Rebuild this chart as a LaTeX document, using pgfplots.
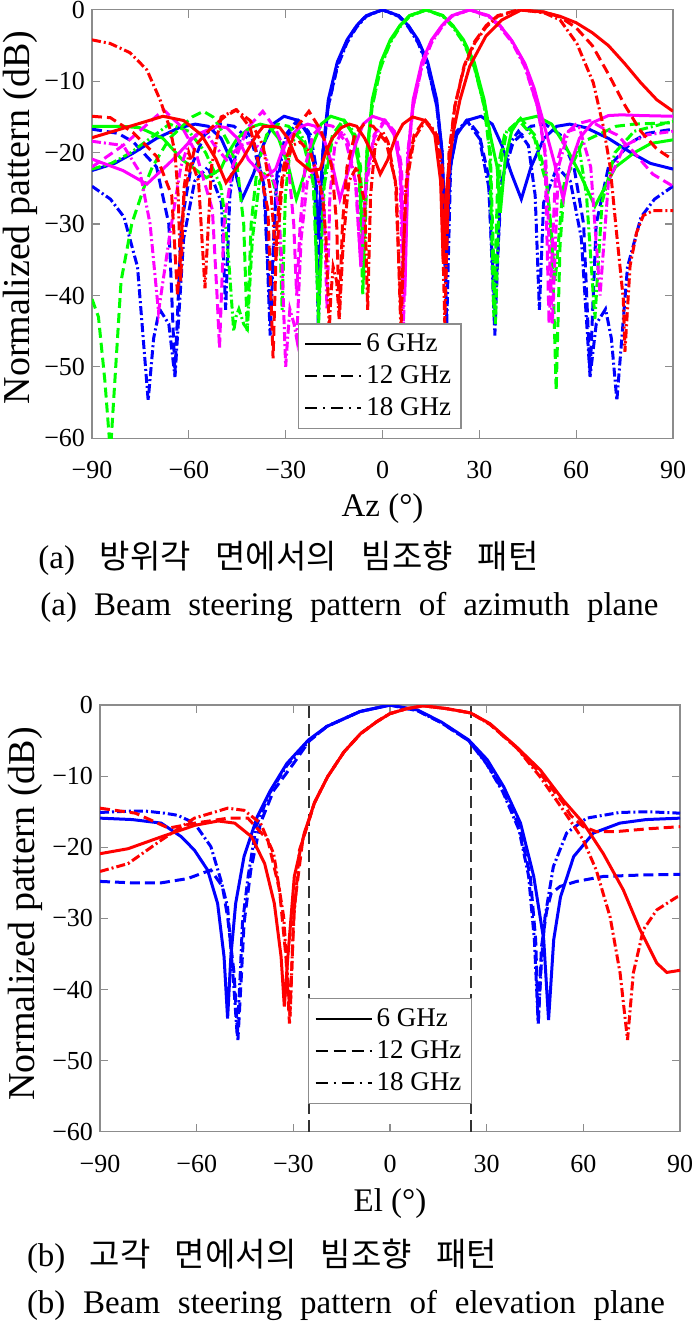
\documentclass[border=0pt]{standalone}
\usepackage{fontspec}
\setmainfont{Liberation Serif}
\newfontfamily\cjk{Noto Sans CJK KR}
\usepackage{pgfplots}
\pgfplotsset{compat=1.18}

\definecolor{cB}{rgb}{0,0,1}
\definecolor{cG}{rgb}{0,1,0}
\definecolor{cM}{rgb}{1,0,1}
\definecolor{cR}{rgb}{1,0,0}

\pgfplotsset{
  pat/.style={
    scale only axis,
    xmin=-90, xmax=90, ymin=-60, ymax=0,
    xtick={-90,-60,...,90}, xticklabels={−90,−60,−30,0,30,60,90},
    ytick={-60,-50,...,0}, yticklabels={−60,−50,−40,−30,−20,−10,0},
    tick align=inside, major tick length=4pt,
    axis line style={black!45, line width=0.6pt},
    tick style={black!45, line width=0.6pt},
    tick label style={font=\fontsize{13}{13}\selectfont},
    xticklabel style={yshift=-8pt},
    xlabel style={font=\fontsize{16.5}{16.5}\selectfont},
    ylabel style={font=\fontsize{19}{19}\selectfont},
    ylabel={Normalized pattern (dB)},
    legend style={draw=black!45, fill=white, line width=0.6pt,
      font=\fontsize{13.5}{15}\selectfont, inner xsep=3pt, inner ysep=3pt,
      row sep=1.5pt, cells={anchor=west}},
    legend cell align=left,
    legend image code/.code={\draw[#1] (0pt,0pt) -- (28pt,0pt);},
  },
  s6/.style={line width=1.5pt, solid},
  s12/.style={line width=1.5pt, dash pattern=on 5pt off 2.5pt},
  s18/.style={line width=1.5pt, dash pattern=on 4.5pt off 1.5pt on 1pt off 1.5pt},
}

\newcommand{\ko}[1]{{\cjk\fontsize{16.5}{18}\selectfont #1}}

\begin{document}
\begin{tikzpicture}
\useasboundingbox (0,0) rectangle (349pt,663pt);

% (a) azimuth plane
\begin{axis}[pat, at={(46pt,443.85pt)}, anchor=south west,
  width=290.5pt, height=214.2pt,
  xlabel={Az (°)},
  xlabel style={at={(axis description cs:0.5,-0.165)}, anchor=center},
  ylabel style={at={(axis description cs:-0.124,0.515)}, anchor=center},
  legend style={at={(axis cs:-26.2,-43.9)}, anchor=north west}]
\addlegendimage{black, line width=0.9pt, solid}
\addlegendentry{6 GHz}
\addlegendimage{black, line width=0.9pt, dash pattern=on 6pt off 3pt}
\addlegendentry{12 GHz}
\addlegendimage{black, line width=0.9pt, dash pattern=on 6pt off 3pt on 1pt off 3pt}
\addlegendentry{18 GHz}

% blue, 0 deg
\addplot[cB, s6, forget plot] coordinates {
(-90,-22.5) (-83,-21.5) (-77,-20) (-70,-18) (-63,-16.5) (-58,-16) (-54,-16.3) (-50,-18) (-46,-22) (-43.5,-26.5) (-40,-23) (-37,-19) (-34,-16) (-30.5,-14.9) (-26,-15.5) (-23,-17.5) (-21,-22) (-20,-32) (-18.5,-20) (-16.8,-12.6) (-14,-7.3) (-11,-4.2) (-8,-2.2) (-5,-0.8) (0,0) (5,-0.8) (8,-2.2) (11,-4.2) (14,-7.3) (16.8,-12.6) (18.5,-20) (19.7,-34.9) (21,-22) (23,-17.5) (26,-15.5) (30.5,-14.9) (34,-16) (37,-19) (40,-23) (43,-26.5) (46,-22) (50,-18) (54,-16.3) (58,-16) (63,-16.5) (70,-18) (77,-20) (83,-21.5) (90,-22.3)};
\addplot[cB, s12, forget plot] coordinates {
(-90,-16.7) (-81.9,-17.3) (-77.2,-18.5) (-70,-22) (-66.2,-30) (-64.3,-51) (-62.3,-30) (-59.3,-22) (-55.1,-17.5) (-50.4,-16) (-46,-16.3) (-40.5,-18.5) (-36.9,-24) (-34.8,-42) (-32.7,-23) (-30,-17.5) (-26.5,-15.5) (-22.3,-17.5) (-20.6,-22) (-19.5,-38) (-18.4,-20) (-16.8,-13.5) (-14,-7.8) (-11,-4.4) (-8,-2.2) (-5,-0.8) (0,0) (5,-0.8) (8,-2.2) (11,-4.4) (14,-7.8) (16.8,-13.5) (18.4,-20) (19.5,-38) (20.6,-22) (22.3,-17.5) (26.5,-15.5) (30,-17.5) (32.7,-23) (34.8,-42) (36.9,-24) (40.5,-18.5) (46,-16.3) (50.4,-16) (55.1,-17.5) (59.3,-22) (62.3,-30) (64.3,-51) (66.2,-30) (70,-22) (77.2,-18.5) (81.9,-17.3) (90,-16.7)};
\addplot[cB, s18, forget plot] coordinates {
(-90,-24.7) (-84.3,-26.5) (-80.1,-29) (-75.9,-36) (-72.6,-54.7) (-70.9,-46) (-69.1,-41.9) (-66.2,-44) (-64.3,-51.4) (-61.6,-32) (-58.2,-24) (-54.1,-22) (-49.9,-27) (-48.6,-42) (-47.3,-26) (-45.2,-19) (-42.1,-17) (-39.8,-18.5) (-36.5,-25) (-34.8,-45.6) (-33,-25) (-30,-18) (-26.1,-15.5) (-23,-17) (-21.1,-22) (-19.9,-44) (-18.5,-20) (-16.8,-13.5) (-14,-8) (-11,-4.6) (-8,-2.4) (-5,-0.9) (0,0) (5,-0.9) (8,-2.4) (11,-4.6) (14,-8) (16.8,-13.5) (18.5,-20) (19.9,-44) (21.1,-22) (23,-17) (26.1,-15.5) (30,-18) (33,-25) (34.8,-45.6) (36.5,-25) (39.8,-18.5) (42.1,-17) (45.2,-19) (47.3,-26) (48.6,-42) (49.9,-27) (54.1,-22) (58.2,-24) (61.6,-32) (64.3,-51.4) (66.2,-44) (69.1,-41.9) (70.9,-46) (72.6,-54.7) (75.9,-36) (80.1,-29) (84.3,-26.5) (90,-24.7)};

% green, 13.5 deg
\addplot[cG, s6, forget plot] coordinates {
(-90,-16.3) (-80.8,-16.3) (-75.2,-16.5) (-68,-18) (-62,-21) (-54.5,-23.5) (-50.1,-22.3) (-47.8,-20) (-45,-18) (-41.1,-16.5) (-37.9,-16) (-35.2,-16.3) (-32.2,-18) (-29.1,-22) (-26.7,-26.5) (-24.2,-23) (-21.7,-19) (-19,-16) (-16,-14.9) (-11.8,-15.5) (-9.1,-17.5) (-7.2,-22) (-6,-35) (-4.8,-20) (-3.2,-12.6) (-0.5,-7.3) (2.4,-4.2) (5.4,-2.2) (8.4,-0.8) (13.5,0) (18.7,-0.8) (21.8,-2.2) (25.1,-4.2) (28.4,-7.3) (31.5,-12.6) (33.6,-18) (35.5,-22) (36.5,-28.4) (38,-21) (40,-17) (42.1,-15.5) (47.8,-14.9) (52.4,-16) (56.6,-19) (61.2,-23) (65.8,-27.5) (72.2,-22) (78,-20) (83.2,-18.7) (90,-18.2)};
\addplot[cG, s12, forget plot] coordinates {
(-90,-40.5) (-88,-43) (-86,-52) (-84.3,-62) (-81,-38) (-77.7,-30) (-74,-25) (-71.3,-22) (-66,-18) (-62.5,-16.5) (-59,-15) (-55.5,-14.2) (-52.5,-15) (-50.1,-16.7) (-47.9,-18.5) (-45,-22) (-43,-30) (-41.9,-45) (-40.7,-30) (-38.8,-22) (-35.9,-17.5) (-32.5,-16) (-29.1,-16.3) (-24.6,-18.5) (-21.5,-24) (-19.8,-42) (-17.9,-23) (-15.5,-17.5) (-12.3,-15.5) (-8.5,-17.5) (-6.8,-22) (-5.8,-38) (-4.7,-20) (-3.2,-13.5) (-0.5,-7.8) (2.4,-4.4) (5.4,-2.2) (8.4,-0.8) (13.5,0) (18.7,-0.8) (21.8,-2.2) (25.1,-4.4) (28.4,-7.8) (31.5,-13.5) (33.2,-20) (34.5,-43) (35.8,-22) (37.8,-17.5) (42.8,-15.2) (47.1,-17.5) (50.6,-23) (52.5,-32) (53.8,-53.3) (55,-33) (56.4,-24) (62,-18.5) (72.4,-16.3) (78,-16) (90,-15.8)};
\addplot[cG, s18, forget plot] coordinates {
(-90,-22.3) (-84,-21.5) (-78,-20) (-72,-18) (-66,-16) (-60,-17) (-54.8,-20) (-50.1,-24.7) (-48.8,-29) (-47.5,-36) (-46.1,-45) (-45.4,-43) (-44.5,-41.9) (-43,-44) (-41.9,-44.7) (-40.3,-32) (-38.1,-24) (-35.2,-22) (-32.1,-27) (-31.1,-42) (-30.1,-26) (-28.5,-19) (-25.9,-17) (-24,-18.5) (-21.2,-25) (-19.8,-44) (-18.2,-25) (-15.5,-18) (-11.9,-15.5) (-9,-17) (-7.3,-22) (-6.1,-40) (-4.9,-20) (-3.2,-13.5) (-0.5,-8) (2.4,-4.6) (5.4,-2.4) (8.4,-0.9) (13.5,0) (18.7,-0.9) (21.8,-2.4) (25.1,-4.6) (28.4,-8) (31.5,-13.5) (33.4,-20) (35,-44) (36.4,-22) (38.5,-17) (42.3,-15.5) (47.1,-18) (51.1,-25) (53.5,-38) (55.9,-25) (60.8,-19) (63.2,-26) (65.8,-43.3) (68,-27) (72,-20) (78,-17) (90,-15.6)};

% magenta, 27 deg
\addplot[cM, s6, forget plot] coordinates {
(-90,-20.9) (-80.4,-22.5) (-73,-24.4) (-65,-21) (-57.8,-17.5) (-51.2,-16.3) (-48.3,-16.5) (-44.9,-18) (-41.5,-21) (-36.4,-23.5) (-33.1,-22.3) (-31.3,-20) (-29.1,-18) (-25.9,-16.5) (-23.2,-16) (-20.8,-16.3) (-18.2,-18) (-15.4,-22) (-13.2,-26.5) (-10.9,-23) (-8.5,-19) (-6,-16) (-3.1,-14.9) (0.9,-15.5) (3.6,-17.5) (5.5,-22) (6.9,-40) (8,-20) (9.5,-12.6) (12.2,-7.3) (15.2,-4.2) (18.4,-2.2) (21.5,-0.8) (27,0) (32.8,-0.8) (36.4,-2.2) (40.2,-4.4) (44.1,-7.5) (47,-11) (50,-16) (53,-21) (56,-26.5) (58,-22) (61,-18) (65,-15.8) (70,-14.8) (74,-14.7) (80,-14.8) (90,-14.9)};
\addplot[cM, s12, forget plot] coordinates {
(-90,-22) (-80.4,-19) (-67.8,-14) (-62,-16.5) (-57.8,-20) (-52.7,-28) (-51.2,-40.5) (-50.5,-47.4) (-49.1,-30) (-46.5,-22) (-41.8,-16.5) (-37.1,-14.2) (-33.1,-16.7) (-31.4,-18.5) (-29.1,-22) (-27.5,-30) (-26.6,-40) (-25.5,-30) (-24,-22) (-21.5,-17.5) (-18.4,-16) (-15.4,-16.3) (-11.3,-18.5) (-8.4,-24) (-6.7,-36) (-4.9,-23) (-2.6,-17.5) (0.5,-15.5) (4.2,-17.5) (5.9,-22) (6.9,-38) (8,-20) (9.5,-13.5) (12.2,-7.8) (15.2,-4.4) (18.4,-2.2) (21.5,-0.8) (27,0) (32.8,-0.8) (36.4,-2.2) (40.2,-4.4) (44.1,-7.8) (48,-13.5) (50.3,-20) (51.6,-44) (53.7,-22) (56.5,-17.5) (60,-16) (64.2,-15.5) (68,-16.5) (72.6,-17.5) (78,-20) (83.7,-23) (90,-24.7)};
\addplot[cM, s18, forget plot] coordinates {
(-90,-18.4) (-80.3,-19) (-75.1,-22.8) (-72,-30) (-69.4,-42.3) (-65.8,-31.2) (-62.5,-22) (-59.6,-18.1) (-55,-17) (-52,-19) (-48.3,-21) (-44.1,-19) (-40.2,-18.5) (-36.6,-20) (-33.1,-24.7) (-32.1,-29) (-31.1,-36) (-30,-50) (-29.4,-46) (-28.7,-41.9) (-27.4,-44) (-26.6,-46) (-25.2,-32) (-23.3,-24) (-20.9,-22) (-18.1,-27) (-17.2,-42) (-16.3,-26) (-14.8,-19) (-12.5,-17) (-10.7,-18.5) (-8.1,-25) (-6.7,-36) (-5.2,-25) (-2.6,-18) (0.8,-15.5) (3.7,-17) (5.4,-22) (6.5,-44) (7.8,-20) (9.5,-13.5) (12.2,-8) (15.2,-4.6) (18.4,-2.4) (21.5,-0.9) (27,0) (32.8,-0.9) (36.4,-2.4) (40.2,-4.6) (44.1,-8) (48,-13.5) (50.5,-20) (52.6,-44) (54.5,-22) (57.6,-17) (61,-16.5) (64.5,-22) (67.4,-40) (70,-24) (75,-19) (82,-17.5) (90,-17)};

% red, 43 deg
\addplot[cR, s6, forget plot] coordinates {
(-90,-17.9) (-76,-16) (-68,-14.9) (-61.6,-15.5) (-56.1,-17.5) (-51.6,-20.9) (-48.5,-24.2) (-43.5,-21) (-39,-17.5) (-36.9,-16.3) (-34.3,-16.3) (-31.8,-16.5) (-29.3,-18) (-26.5,-21) (-22.5,-22.5) (-19.3,-22.3) (-17.6,-20) (-15.6,-18) (-12.8,-16.5) (-10.3,-16) (-8,-16.3) (-5.5,-18) (-2.8,-20.5) (-0.7,-23) (1.6,-21) (3.9,-18) (6.3,-16) (9.3,-15) (13.3,-15.5) (16.2,-17.5) (18,-24) (18.8,-35.3) (19.7,-26) (20.5,-22) (22,-17) (24,-12.6) (27,-7.9) (32,-3.7) (37,-1.4) (43,0) (50,-0.3) (55,-0.9) (60,-1.8) (65,-3.2) (70,-5) (75,-7.5) (80,-10.2) (85,-12.6) (90,-14.2)};
\addplot[cR, s12, forget plot] coordinates {
(-90,-14.9) (-84.3,-15.1) (-77.2,-17.2) (-70,-20.5) (-65.3,-26) (-63.5,-40) (-61.5,-26) (-58,-19) (-53,-16.5) (-49,-15) (-45.2,-14) (-41,-16.5) (-39.1,-20) (-35.5,-28) (-33.9,-48.8) (-32.7,-30) (-30.7,-22) (-26.7,-16.5) (-22.8,-14.2) (-19.3,-16.7) (-17.8,-18.5) (-15.7,-22) (-14.2,-30) (-13.4,-43) (-12.4,-30) (-11,-22) (-8.6,-17.5) (-5.7,-16) (-2.9,-16.3) (1.1,-18.5) (4,-24) (5.7,-42) (7.5,-23) (9.8,-17.5) (12.9,-15.5) (16.9,-17.5) (18.5,-22) (19.6,-38) (20.8,-20) (22.4,-13.5) (25.3,-7.8) (28.6,-4.4) (32.1,-2.2) (35.7,-0.8) (42,0) (50,-0.3) (55,-1) (60,-2.5) (65,-5) (70,-9) (75,-13.3) (80,-17) (85,-19.5) (90,-21)};
\addplot[cR, s18, forget plot] coordinates {
(-90,-4.2) (-84.4,-4.7) (-78.2,-6) (-73,-8.4) (-68.9,-12.6) (-65.8,-16.7) (-64.3,-20) (-63.3,-26) (-62.5,-38) (-61.5,-25) (-60,-20) (-57,-24) (-55,-39) (-53,-22) (-50,-15) (-45.5,-14) (-41,-15.5) (-37,-19) (-34.5,-26) (-33,-35) (-31,-24) (-28,-19) (-25.5,-18.5) (-22.3,-20) (-19.3,-24.7) (-18.4,-27) (-17.5,-32) (-16.5,-45) (-16,-40) (-15.3,-36) (-14.2,-38) (-13.4,-43.3) (-12.1,-32) (-10.4,-24) (-8,-22) (-5.5,-27) (-4.6,-42) (-3.7,-26) (-2.3,-19) (0,-17) (1.7,-18.5) (4.3,-25) (5.7,-45) (7.2,-25) (9.8,-18) (13.3,-15.5) (16.3,-17) (18.1,-22) (19.3,-44) (20.6,-20) (22.4,-13.5) (25.3,-8) (28.6,-4.6) (32.1,-2.4) (35.7,-0.9) (43,0) (50,-0.4) (55,-1.4) (60.2,-4.7) (65.3,-10.2) (68.4,-16.3) (70.5,-21.9) (72.5,-31.2) (74.6,-40.5) (75.1,-47.9) (76.7,-35.8) (78.7,-31.2) (80.8,-28.8) (83.9,-28.1) (90,-28.1)};
\end{axis}

% (b) elevation plane
\begin{axis}[pat, at={(50pt,97.15pt)}, anchor=south west,
  width=290pt, height=213.3pt,
  xlabel={El (°)},
  xlabel style={at={(axis description cs:0.5,-0.169)}, anchor=center},
  ylabel style={at={(axis description cs:-0.129,0.51)}, anchor=center},
  legend style={at={(axis cs:-25.4,-41.2)}, anchor=north west}]
\addlegendimage{black, line width=0.9pt, solid}
\addlegendentry{6 GHz}
\addlegendimage{black, line width=0.9pt, dash pattern=on 6pt off 3pt}
\addlegendentry{12 GHz}
\addlegendimage{black, line width=0.9pt, dash pattern=on 6pt off 3pt on 1pt off 3pt}
\addlegendentry{18 GHz}

\addplot[black!80, line width=1pt, dash pattern=on 6pt off 3pt, forget plot] coordinates {(-25,-60) (-25,0)};
\addplot[black!80, line width=1pt, dash pattern=on 6pt off 3pt, forget plot] coordinates {(25,-60) (25,0)};

\addplot[cB, s6, forget plot] coordinates {
(-90,-15.9) (-80,-16.1) (-71,-16.6) (-64.8,-18.5) (-60.7,-20.4) (-56.6,-23.2) (-53.5,-27.9) (-51.5,-35.4) (-50.4,-44.1) (-49.4,-35.4) (-47.9,-27.9) (-45.3,-21.3) (-41.2,-15.7) (-37.1,-12) (-32,-8.2) (-25.3,-4.9) (-19.6,-3) (-9.3,-0.9) (0,0) (8.6,-0.7) (16,-2.4) (24.4,-4.9) (30.2,-7.7) (35.3,-11.5) (40.5,-16.6) (44.6,-24.1) (47.7,-33) (49.2,-44.3) (50.8,-33) (52.9,-27) (57,-21.3) (63.1,-18) (71.3,-16.6) (79.5,-16.1) (90,-15.9)};
\addplot[cB, s12, forget plot] coordinates {
(-90,-24.8) (-80,-25) (-71,-25) (-62.8,-24.4) (-55.6,-23.2) (-52,-25.5) (-50.4,-29.8) (-48.4,-37.7) (-47.2,-47.1) (-46,-37) (-45.3,-30.7) (-43.2,-23.2) (-40.2,-16.6) (-36.1,-12) (-29.9,-8.2) (-25,-5) (-19.6,-3) (-9.3,-0.9) (0,0) (8.6,-0.8) (16,-2.5) (24.4,-5) (30,-8.2) (35,-12) (40,-17) (43.5,-24) (45.2,-33) (46,-44.8) (47,-34) (48.6,-29) (50,-26.5) (52.8,-25.5) (57.9,-24.8) (66.2,-24.1) (78,-23.9) (90,-23.8)};
\addplot[cB, s18, forget plot] coordinates {
(-90,-15.1) (-80,-14.9) (-76,-14.9) (-70,-15.2) (-65.9,-15.5) (-60.7,-16.6) (-55.6,-19.9) (-52.5,-24.6) (-50.4,-28.4) (-48.4,-40) (-47.4,-46.6) (-46.5,-38) (-45.8,-30.7) (-44,-24) (-41.5,-17) (-37.5,-12.5) (-32,-8.5) (-25,-5) (-19.6,-3) (-9.3,-0.9) (0,0) (8.6,-0.8) (16,-2.5) (24.4,-5) (30,-8.3) (35,-12.2) (40,-17.5) (43,-24) (44.8,-33) (46,-44.8) (47,-36) (48.1,-29.8) (50.7,-22.7) (54.8,-18) (61,-15.9) (71.3,-15.1) (80,-15) (90,-15.2)};

\addplot[cR, s6, forget plot] coordinates {
(-90,-20.9) (-81.3,-20.2) (-70.8,-18.5) (-60.5,-16.9) (-53.3,-16.3) (-48.2,-16.6) (-43,-18.5) (-38.9,-22.3) (-35.9,-27.9) (-33.8,-35.4) (-32.8,-42.4) (-31.7,-35.4) (-29.7,-24.1) (-26.6,-18) (-23.5,-13.8) (-19.4,-10.1) (-14.3,-6.6) (-9.1,-4) (-4,-2.3) (0,-1.2) (5.2,-0.5) (10.3,-0.1) (17.6,-0.5) (25,-1.1) (31,-2.6) (39.3,-5.9) (46.6,-9.1) (53.8,-13.4) (60,-16.6) (66.2,-20.9) (72.4,-26) (77.6,-31.6) (82.8,-36.3) (85.9,-37.6) (90,-37.3)};
\addplot[cR, s12, forget plot] coordinates {
(-90,-14.5) (-79,-15.2) (-68.7,-17.3) (-60.5,-16.6) (-50.2,-15.9) (-44.1,-15.9) (-37.9,-19) (-34.3,-26) (-32.3,-35.4) (-31.2,-44.8) (-29.7,-28.4) (-27.1,-19) (-23.5,-13.8) (-19.4,-10.1) (-14.3,-6.6) (-9.1,-4) (-4,-2.3) (0,-1.2) (5.2,-0.5) (10.3,-0.1) (17.6,-0.5) (25,-1.1) (31,-2.7) (39.3,-6) (46.6,-9.6) (53.8,-13.8) (56,-15.5) (60,-17.1) (64,-17.8) (70,-17.8) (80,-17.4) (90,-17.1)};
\addplot[cR, s18, forget plot] coordinates {
(-90,-23.4) (-81.3,-22.3) (-71,-19) (-60.7,-15.9) (-50.4,-14.5) (-45.3,-14.8) (-40.2,-16.6) (-36.1,-20.9) (-33,-29.8) (-31,-43.8) (-30,-30.7) (-28.1,-20.4) (-25,-16) (-23.5,-13.8) (-19.4,-10.1) (-14.3,-6.6) (-9.1,-4) (-4,-2.3) (0,-1.2) (5.2,-0.5) (10.3,-0.1) (17.6,-0.5) (25,-1.1) (31,-2.7) (39.3,-6) (46.6,-10.1) (53.8,-14.8) (60,-19) (64,-23.2) (68.3,-29.8) (71.4,-37.7) (73.7,-47.1) (75.5,-37.7) (78.6,-31.6) (82.8,-28.8) (89,-27) (90,-26.9)};
\end{axis}

% captions
\node[anchor=west, inner sep=0pt] at (19pt,384pt) {\makebox[250pt][s]{\fontsize{16.5}{18}\selectfont (a) \ko{방위각} \ko{면에서의} \ko{빔조향} \ko{패턴}}};
\node[anchor=west, inner sep=0pt] at (20pt,359.5pt) {\makebox[309pt][s]{\fontsize{16.5}{18}\selectfont (a) Beam steering pattern of azimuth plane}};
\node[anchor=west, inner sep=0pt] at (13.3pt,35pt) {\makebox[235pt][s]{\fontsize{16.5}{18}\selectfont (b) \ko{고각} \ko{면에서의} \ko{빔조향} \ko{패턴}}};
\node[anchor=west, inner sep=0pt] at (13.3pt,10.5pt) {\makebox[319pt][s]{\fontsize{16.5}{18}\selectfont (b) Beam steering pattern of elevation plane}};
\end{tikzpicture}
\end{document}
